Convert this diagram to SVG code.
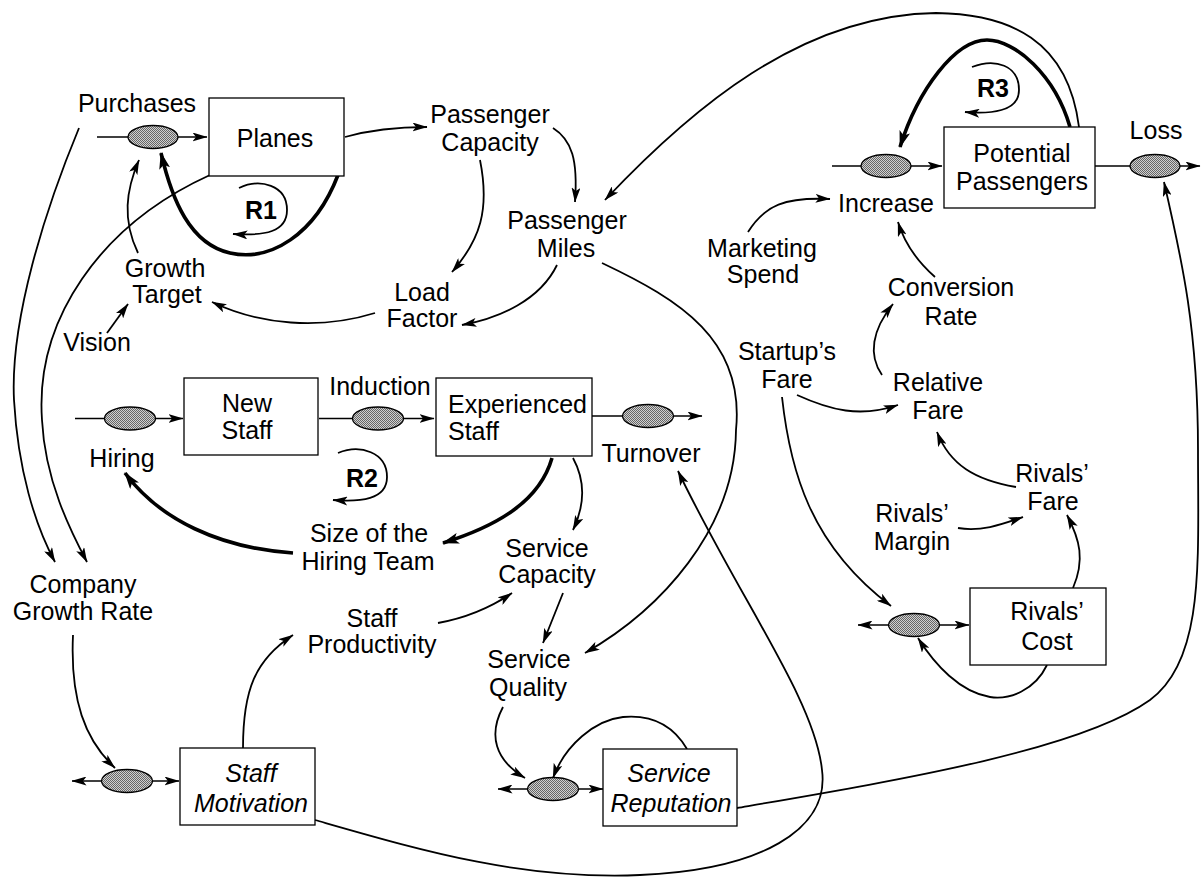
<svg xmlns="http://www.w3.org/2000/svg" width="1201" height="878" viewBox="0 0 1201 878">
<defs>
<style>
text{font-family:"Liberation Sans",Arial,sans-serif;font-size:25px;fill:#000;text-anchor:middle}
.it{font-style:italic}
.b{font-weight:bold}
.box{fill:#fff;stroke:#000;stroke-width:1.3}
.valve{fill:url(#dots);stroke:#000;stroke-width:1.3}
.pipe{fill:none;stroke:#000;stroke-width:1.6}
.c{fill:none;stroke:#000;stroke-width:1.8;marker-end:url(#a)}
.t{fill:none;stroke:#000;stroke-width:3.6;marker-end:url(#ab)}
.loop{fill:none;stroke:#000;stroke-width:1.8;marker-end:url(#a)}
</style>
<pattern id="dots" width="2" height="2" patternUnits="userSpaceOnUse"><rect width="2" height="2" fill="#d0d0d0"/><rect width="1" height="1" fill="#666"/><rect x="1" y="1" width="1" height="1" fill="#666"/></pattern>
<marker id="a" viewBox="0 0 15 9" refX="14.5" refY="4.5" markerWidth="15" markerHeight="9" orient="auto-start-reverse" markerUnits="userSpaceOnUse"><path d="M0,0 L15,4.5 L0,9 L3.5,4.5 z"/></marker>
<marker id="ab" viewBox="0 0 17 11" refX="16" refY="5.5" markerWidth="17" markerHeight="11" orient="auto" markerUnits="userSpaceOnUse"><path d="M0,0 L17,5.5 L0,11 L4,5.5 z"/></marker>
</defs>
<rect width="1201" height="878" fill="#fff"/>

<g id="connectors">
<path class="pipe" d="M97,137 L207,137" marker-end="url(#a)"/>
<path class="pipe" d="M832,166 L942,166" marker-end="url(#a)"/>
<path class="pipe" d="M1095,166 L1200,166" marker-end="url(#a)"/>
<path class="pipe" d="M75,418.5 L183,418.5" marker-end="url(#a)"/>
<path class="pipe" d="M319,418.5 L434,418.5" marker-end="url(#a)"/>
<path class="pipe" d="M592,416 L702,416" marker-end="url(#a)"/>
<path class="pipe" d="M72,781 L179,781" marker-start="url(#a)" marker-end="url(#a)"/>
<path class="pipe" d="M498,789 L603,789" marker-start="url(#a)" marker-end="url(#a)"/>
<path class="pipe" d="M858,625 L969,625" marker-start="url(#a)" marker-end="url(#a)"/>
<path class="c" d="M345,137 C370,130 395,127 427,127"/>
<path class="c" d="M553,128 C572,140 578,160 575,202"/>
<path class="c" d="M480,160 C490,210 480,240 452,272"/>
<path class="c" d="M557,265 C540,300 500,318 462,325"/>
<path class="c" d="M375,313 C320,330 260,325 212,302"/>
<path class="c" d="M107,333 L128,304"/>
<path class="c" d="M138,253 C122,220 126,190 139,160"/>
<path class="t" d="M338,175 C315,235 270,262 230,253 C190,244 172,200 161,153"/>
<path class="c" d="M210,175 C100,225 35,320 42,420 C45,480 70,530 87,562"/>
<path class="c" d="M79,128 C45,210 10,320 14,400 C18,470 35,525 55,562"/>
<path class="c" d="M1079,127 C1068,40 1010,14 936,13 C800,15 690,110 605,200"/>
<path class="t" d="M1070,127 C1055,75 1015,40 987,40 C955,40 918,90 900,147"/>
<path class="c" d="M748,232 C765,205 785,197 830,199"/>
<path class="c" d="M935,277 C918,262 905,245 898,222"/>
<path class="c" d="M882,375 C868,355 872,330 893,304"/>
<path class="c" d="M797,395 C830,410 860,418 898,405"/>
<path class="c" d="M1016,487 C975,480 950,465 937,432"/>
<path class="c" d="M958,528 C980,532 1000,525 1023,517"/>
<path class="c" d="M1073,588 C1085,560 1080,540 1067,515"/>
<path class="c" d="M782,397 C790,470 810,545 891,606"/>
<path class="c" d="M1047,665 C1035,690 1010,700 990,697 C960,692 935,665 918,638"/>
<path class="c" d="M737,808 C900,780 1080,750 1150,700 C1205,660 1198,560 1198,450 C1198,330 1182,260 1164,182"/>
<path class="c" d="M602,263 C680,300 745,340 736,430 C735,530 660,610 585,653"/>
<path class="c" d="M315,820 C420,850 520,880 640,875 C760,870 830,830 822,770 C815,700 740,600 678,471"/>
<path class="t" d="M552,458 C540,500 500,525 443,543"/>
<path class="c" d="M573,458 C585,480 585,505 573,530"/>
<path class="t" d="M293,553 C220,548 160,520 125,473"/>
<path class="c" d="M438,623 C465,618 490,608 512,593"/>
<path class="c" d="M563,593 L543,643"/>
<path class="c" d="M243,748 C243,690 255,660 293,635"/>
<path class="c" d="M73,635 C70,700 85,740 115,768"/>
<path class="c" d="M503,707 C488,735 495,760 525,778"/>
<path class="c" d="M687,749 C670,720 645,715 623,717 C595,720 565,745 553,778"/>
<path class="loop" d="M239,188 C260,178 287,185 287,210 C287,232 265,236 233,234"/>
<path class="loop" d="M338,453 C360,444 387,452 387,477 C387,500 360,502 333,500"/>
<path class="loop" d="M972,67 C995,58 1019,65 1019,90 C1019,112 990,114 965,112"/>
</g>

<g id="planes"><rect class="box" x="209" y="98" width="135" height="78"/><text x="275" y="147">Planes</text></g>
<g id="potential-passengers"><rect class="box" x="944" y="127" width="151" height="81"/><text x="1022" y="162">Potential</text><text x="1022" y="190">Passengers</text></g>
<g id="new-staff"><rect class="box" x="184" y="378" width="134" height="77"/><text x="247" y="412">New</text><text x="247" y="439">Staff</text></g>
<g id="experienced-staff"><rect class="box" x="436" y="378" width="156" height="78"/><text x="448" y="413" style="text-anchor:start">Experienced</text><text x="448" y="440" style="text-anchor:start">Staff</text></g>
<g id="staff-motivation"><rect class="box" x="180" y="748" width="135" height="77"/><text class="it" x="251" y="782">Staff</text><text class="it" x="251" y="812">Motivation</text></g>
<g id="service-reputation"><rect class="box" x="603" y="749" width="134" height="77"/><text class="it" x="669" y="782">Service</text><text class="it" x="671" y="812">Reputation</text></g>
<g id="rivals-cost"><rect class="box" x="970" y="588" width="136" height="77"/><text x="1047" y="620">Rivals’</text><text x="1047" y="650">Cost</text></g>

<g id="purchases"><ellipse class="valve" cx="153" cy="137" rx="25" ry="11.5"/><text x="137" y="112">Purchases</text></g>
<g id="increase"><ellipse class="valve" cx="886" cy="166" rx="25" ry="11.5"/><text x="886" y="212">Increase</text></g>
<g id="loss"><ellipse class="valve" cx="1155" cy="166" rx="25" ry="11.5"/><text x="1156" y="139">Loss</text></g>
<g id="hiring"><ellipse class="valve" cx="130" cy="418.5" rx="25.5" ry="11.5"/><text x="122" y="467">Hiring</text></g>
<g id="induction"><ellipse class="valve" cx="378" cy="418.5" rx="25.5" ry="11.5"/><text x="380" y="395">Induction</text></g>
<g id="turnover"><ellipse class="valve" cx="648" cy="416" rx="25.5" ry="11.5"/><text x="651" y="462">Turnover</text></g>
<g id="motivation-change"><ellipse class="valve" cx="127" cy="781" rx="25.5" ry="11.5"/></g>
<g id="reputation-change"><ellipse class="valve" cx="553" cy="789" rx="25.5" ry="11.5"/></g>
<g id="cost-change"><ellipse class="valve" cx="914" cy="625" rx="25.5" ry="11.5"/></g>

<g id="passenger-capacity"><text x="490" y="123">Passenger</text><text x="490" y="151">Capacity</text></g>
<g id="passenger-miles"><text x="567" y="229">Passenger</text><text x="566" y="257">Miles</text></g>
<g id="load-factor"><text x="422" y="301">Load</text><text x="422" y="327">Factor</text></g>
<g id="growth-target"><text x="165" y="277">Growth</text><text x="167" y="303">Target</text></g>
<g id="vision"><text x="97" y="351">Vision</text></g>
<g id="marketing-spend"><text x="762" y="257">Marketing</text><text x="763" y="283">Spend</text></g>
<g id="conversion-rate"><text x="951" y="296">Conversion</text><text x="951" y="325">Rate</text></g>
<g id="relative-fare"><text x="938" y="391">Relative</text><text x="938" y="419">Fare</text></g>
<g id="startups-fare"><text x="787" y="360">Startup’s</text><text x="787" y="388">Fare</text></g>
<g id="rivals-fare"><text x="1052" y="482">Rivals’</text><text x="1053" y="510">Fare</text></g>
<g id="rivals-margin"><text x="912" y="522">Rivals’</text><text x="912" y="550">Margin</text></g>
<g id="hiring-team"><text x="369" y="542">Size of the</text><text x="368" y="570">Hiring Team</text></g>
<g id="service-capacity"><text x="547" y="557">Service</text><text x="547" y="583">Capacity</text></g>
<g id="staff-productivity"><text x="372" y="627">Staff</text><text x="372" y="653">Productivity</text></g>
<g id="service-quality"><text x="529" y="668">Service</text><text x="528" y="696">Quality</text></g>
<g id="company-growth-rate"><text x="83" y="593">Company</text><text x="83" y="620">Growth Rate</text></g>
<g id="loop-r1"><text class="b" x="261" y="219">R1</text></g>
<g id="loop-r2"><text class="b" x="362" y="487">R2</text></g>
<g id="loop-r3"><text class="b" x="993" y="97">R3</text></g>
</svg>
